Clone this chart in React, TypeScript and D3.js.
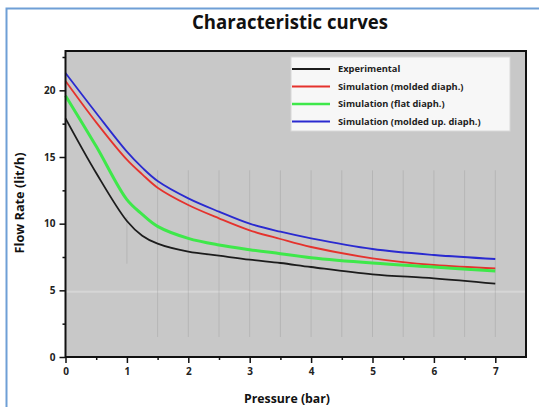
import React, { useEffect, useRef } from 'react';
import * as d3 from 'd3';

// pressure (bar) and flow rate (lit/h)
const pressure = [0, 0.5, 1, 1.25, 1.5, 2, 2.5, 3, 3.5, 4, 5, 6, 7];
const experimental = [17.9, 13.8, 10.2, 9.1, 8.5, 7.9, 7.6, 7.3, 7.05, 6.75, 6.2, 5.9, 5.5];
const simMolded = [20.7, 17.6, 14.8, 13.7, 12.7, 11.4, 10.4, 9.5, 8.85, 8.25, 7.4, 6.9, 6.65];
const simFlat = [19.6, 15.8, 11.8, 10.7, 9.8, 8.9, 8.4, 8.05, 7.75, 7.45, 7.05, 6.75, 6.45];
const simMoldedUp = [21.3, 18.3, 15.4, 14.2, 13.2, 11.9, 10.9, 10.0, 9.4, 8.9, 8.1, 7.65, 7.35];

const seriesNames = [
  'Experimental',
  'Simulation (molded diaph.)',
  'Simulation (flat diaph.)',
  'Simulation (molded up. diaph.)',
];
const seriesValues = [experimental, simMolded, simFlat, simMoldedUp];
const seriesColors = ['#1c1c1c', '#e5322d', '#3ee84a', '#2a2ad0'];
const seriesWidths = [1.8, 1.8, 3, 1.8];

const xTicks = [0, 1, 2, 3, 4, 5, 6, 7];
const yTicks = [0, 5, 10, 15, 20];

const App = () => {
  const svgRef = useRef<SVGSVGElement>(null);

  useEffect(() => {
    const width = 539;
    const height = 407;
    const margin = { top: 51, right: 13, bottom: 50, left: 65.5 };
    const font = '"Open Sans", "Noto Sans", sans-serif';

    const svg = d3.select(svgRef.current);
    svg.selectAll('*').remove();
    svg.attr('width', width).attr('height', height);

    svg.append('rect').attr('width', width).attr('height', height).attr('fill', '#ffffff');

    // window frame on the left and top
    svg
      .append('path')
      .attr('d', `M6.5,${height} V8.5 H${width}`)
      .attr('fill', 'none')
      .attr('stroke', '#6f9fd6')
      .attr('stroke-width', 2);

    const x = d3
      .scaleLinear()
      .domain([0, 7.5])
      .range([margin.left, width - margin.right]);

    const y = d3
      .scaleLinear()
      .domain([0, 22.95])
      .range([height - margin.bottom, margin.top]);

    // plot background
    svg
      .append('rect')
      .attr('x', x(0))
      .attr('y', y(22.95))
      .attr('width', x(7.5) - x(0))
      .attr('height', y(0) - y(22.95))
      .attr('fill', '#c8c8c8');

    // faint band near 5
    svg
      .append('line')
      .attr('x1', x(0))
      .attr('x2', x(7.5))
      .attr('y1', y(4.9))
      .attr('y2', y(4.9))
      .attr('stroke', '#d6d6d6')
      .attr('stroke-width', 2);

    // faint vertical grid traces
    const grid = d3.range(1.5, 7.01, 0.5);
    svg
      .append('g')
      .selectAll('line')
      .data(grid)
      .enter()
      .append('line')
      .attr('x1', (d) => x(d))
      .attr('x2', (d) => x(d))
      .attr('y1', y(14))
      .attr('y2', y(1.5))
      .attr('stroke', '#8a8a8a')
      .attr('stroke-opacity', 0.3)
      .attr('stroke-width', 1);

    svg
      .append('line')
      .attr('x1', x(1))
      .attr('x2', x(1))
      .attr('y1', y(10.5))
      .attr('y2', y(7))
      .attr('stroke', '#8a8a8a')
      .attr('stroke-opacity', 0.3);

    // curves
    const line = d3
      .line<number>()
      .x((_, i) => x(pressure[i]))
      .y((d) => y(d))
      .curve(d3.curveCatmullRom.alpha(0.5));

    svg
      .append('g')
      .selectAll('path')
      .data(seriesValues)
      .enter()
      .append('path')
      .attr('d', (d) => line(d))
      .attr('fill', 'none')
      .attr('stroke', (_, i) => seriesColors[i])
      .attr('stroke-width', (_, i) => seriesWidths[i]);

    // frame
    svg
      .append('rect')
      .attr('x', x(0))
      .attr('y', y(22.95))
      .attr('width', x(7.5) - x(0))
      .attr('height', y(0) - y(22.95))
      .attr('fill', 'none')
      .attr('stroke', '#111')
      .attr('stroke-width', 2);

    // X axis
    const xAxis = svg
      .append('g')
      .attr('transform', `translate(0,${y(0)})`)
      .call(
        d3
          .axisBottom(x)
          .tickValues(d3.range(0, 7.01, 0.5))
          .tickSize(6)
          .tickFormat((d) => (xTicks.includes(+d) ? String(d) : ''))
      );
    xAxis.select('.domain').remove();
    xAxis
      .selectAll('.tick line')
      .attr('stroke', '#111')
      .attr('stroke-width', 1.5)
      .attr('y2', (d) => (xTicks.includes(+d) ? 6 : 3));
    xAxis
      .selectAll('text')
      .attr('fill', '#222')
      .attr('font-family', font)
      .attr('font-weight', 'bold')
      .attr('font-size', 10)
      .attr('dy', '0.9em');

    // Y axis
    const yAxis = svg
      .append('g')
      .attr('transform', `translate(${x(0)},0)`)
      .call(
        d3
          .axisLeft(y)
          .tickValues(d3.range(0, 22.6, 2.5))
          .tickSize(6)
          .tickFormat((d) => (yTicks.includes(+d) ? String(d) : ''))
      );
    yAxis.select('.domain').remove();
    yAxis
      .selectAll('.tick line')
      .attr('stroke', '#111')
      .attr('stroke-width', 1.5)
      .attr('x2', (d) => (yTicks.includes(+d) ? -6 : -3));
    yAxis
      .selectAll('text')
      .attr('fill', '#222')
      .attr('font-family', font)
      .attr('font-weight', 'bold')
      .attr('font-size', 10)
      .attr('x', -10);

    // titles
    svg
      .append('text')
      .attr('x', 290)
      .attr('y', 29)
      .attr('text-anchor', 'middle')
      .attr('font-family', font)
      .attr('font-weight', 'bold')
      .attr('font-size', 19)
      .attr('textLength', 196)
      .attr('lengthAdjust', 'spacingAndGlyphs')
      .attr('fill', '#111')
      .text('Characteristic curves');

    svg
      .append('text')
      .attr('x', 287)
      .attr('y', 403)
      .attr('text-anchor', 'middle')
      .attr('font-family', font)
      .attr('font-weight', 'bold')
      .attr('font-size', 12.5)
      .attr('textLength', 86)
      .attr('lengthAdjust', 'spacingAndGlyphs')
      .attr('fill', '#111')
      .text('Pressure (bar)');

    svg
      .append('text')
      .attr('transform', 'translate(24,203) rotate(-90)')
      .attr('text-anchor', 'middle')
      .attr('font-family', font)
      .attr('font-weight', 'bold')
      .attr('font-size', 12)
      .attr('textLength', 101)
      .attr('lengthAdjust', 'spacingAndGlyphs')
      .attr('fill', '#111')
      .text('Flow Rate (lit/h)');

    // legend
    const legend = svg.append('g').attr('transform', 'translate(291,57)');
    legend
      .append('rect')
      .attr('width', 219)
      .attr('height', 74)
      .attr('fill', '#f7f7f7')
      .attr('stroke', '#d8d8d8');

    const rows = legend
      .selectAll('g.row')
      .data(seriesNames)
      .enter()
      .append('g')
      .attr('class', 'row')
      .attr('transform', (_, i) => `translate(0,${12 + i * 17.5})`);

    rows
      .append('line')
      .attr('x1', 1)
      .attr('x2', 39)
      .attr('stroke', (_, i) => seriesColors[i])
      .attr('stroke-width', (_, i) => (i === 2 ? 2.5 : 1.8));

    rows
      .append('text')
      .attr('x', 47)
      .attr('dy', '0.35em')
      .attr('font-family', font)
      .attr('font-weight', 'bold')
      .attr('font-size', 9.3)
      .attr('fill', '#222')
      .text((d) => d);
  }, []);

  return <svg ref={svgRef} style={{ position: 'absolute', left: 0, top: 0 }}></svg>;
};

export default App;
